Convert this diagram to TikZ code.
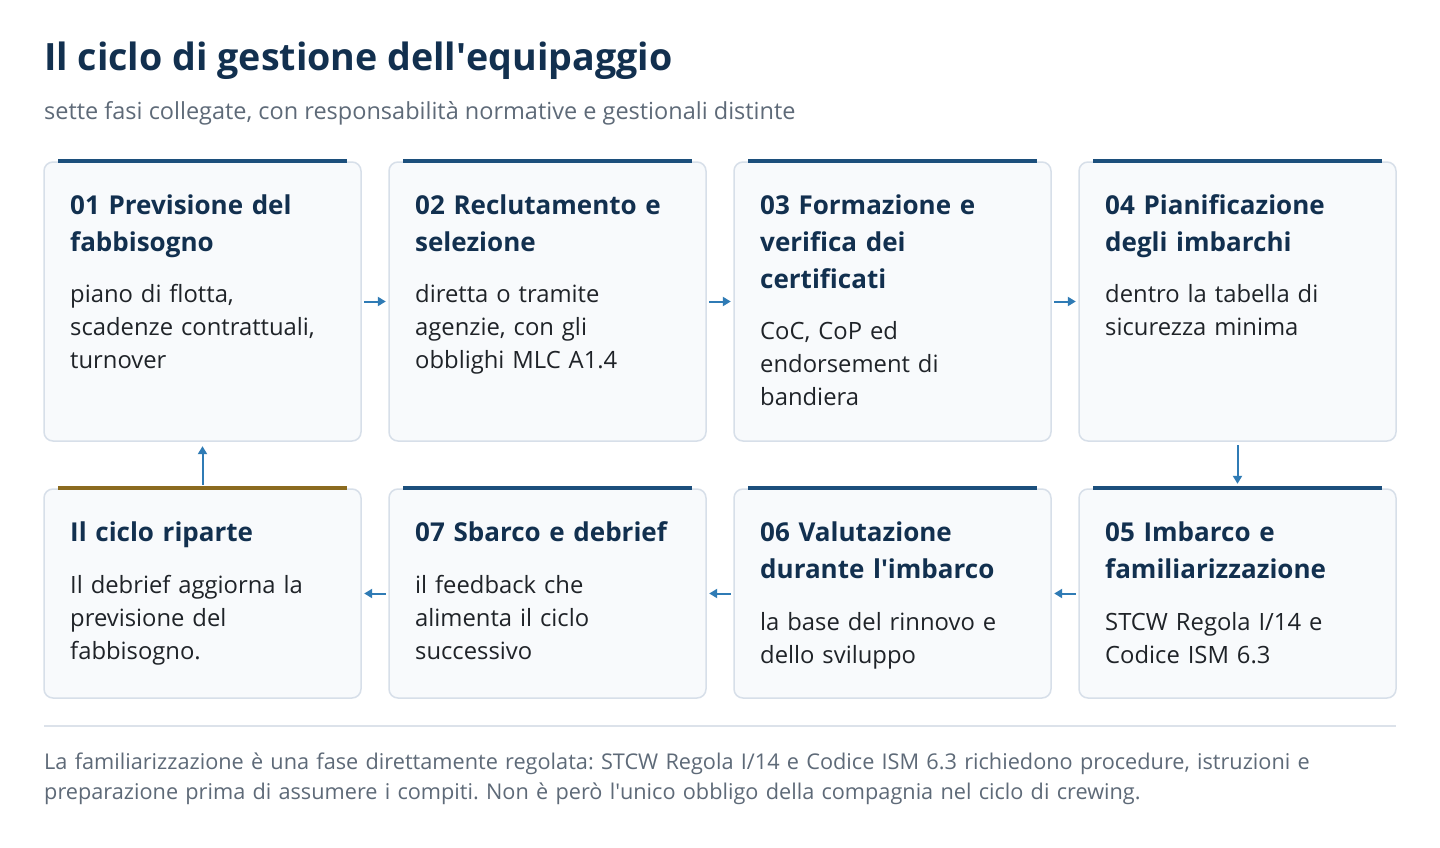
\documentclass[tikz,border=0pt]{standalone}
\usepackage{fontspec}
\setmainfont{Open Sans}
\usetikzlibrary{arrows.meta}
\definecolor{navy}{HTML}{12304F}
\definecolor{accent}{HTML}{1C4F7C}
\definecolor{gold}{HTML}{8B6B1F}
\definecolor{arrowc}{HTML}{2F7BB5}
\definecolor{cardfill}{HTML}{F8FAFC}
\definecolor{cardline}{HTML}{D7DFE9}
\definecolor{bodyc}{HTML}{1F2328}
\definecolor{greyc}{HTML}{5E6A78}
\definecolor{sepc}{HTML}{DCE2EA}
\newcommand{\apo}{\textquotesingle}
\tikzset{
  card/.style={draw=cardline, line width=1.5pt, fill=cardfill, rounded corners=9pt},
  bar/.style={line width=4pt, draw=accent},
  ctitle/.style={anchor=base west, inner sep=0pt, text width=290pt, align=left, text=navy, font=\fontsize{26}{37}\selectfont\bfseries\frenchspacing},
  cbody/.style={anchor=base west, inner sep=0pt, text width=290pt, align=left, text=bodyc, font=\fontsize{23.8}{33}\selectfont\frenchspacing},
  flow/.style={draw=arrowc, line width=2pt, -{Triangle[length=8pt,width=9pt]}},
}
\begin{document}
\begin{tikzpicture}[x=1pt,y=-1pt]
\useasboundingbox[fill=white] (0,0) rectangle (1440,848);
\node[anchor=base west, inner sep=0pt, text=navy, font=\fontsize{37.6}{42}\selectfont\bfseries] (title) at (44,71) {Il ciclo di gestione dell\apo equipaggio};
\node[anchor=base west, inner sep=0pt, text=greyc, font=\fontsize{23.5}{26}\selectfont] (sub) at (44,120) {sette fasi collegate, con responsabilità normative e gestionali distinte};
% cards row 1
\foreach \x in {44,389,734,1079}{
  \draw[card] (\x,162) rectangle ++(317,279);
  \draw[bar] (\x+14,161) -- ++(289,0);
}
\foreach \x in {44,389,734,1079}{
  \draw[card] (\x,489) rectangle ++(317,209);
}
\foreach \x in {389,734,1079}{\draw[bar] (\x+14,488) -- ++(289,0);}
\draw[bar, draw=gold] (58,488) -- ++(289,0);
% anchor nodes for cards
\node[inner sep=0pt, minimum width=317pt, minimum height=279pt] (c1) at (202.5,301.5) {};
\node[inner sep=0pt, minimum width=317pt, minimum height=279pt] (c2) at (547.5,301.5) {};
\node[inner sep=0pt, minimum width=317pt, minimum height=279pt] (c3) at (892.5,301.5) {};
\node[inner sep=0pt, minimum width=317pt, minimum height=279pt] (c4) at (1237.5,301.5) {};
\node[inner sep=0pt, minimum width=317pt, minimum height=209pt] (c5) at (1237.5,593.5) {};
\node[inner sep=0pt, minimum width=317pt, minimum height=209pt] (c6) at (892.5,593.5) {};
\node[inner sep=0pt, minimum width=317pt, minimum height=209pt] (c7) at (547.5,593.5) {};
\node[inner sep=0pt, minimum width=317pt, minimum height=209pt] (c8) at (202.5,593.5) {};
% texts
\node[ctitle] (t1) at (70,214) {01 Previsione del\\fabbisogno};
\node[cbody] (b1) at (70,302) {piano di flotta,\\scadenze contrattuali,\\turnover};
\node[ctitle] (t2) at (415,214) {02 Reclutamento e\\selezione};
\node[cbody] (b2) at (415,302) {diretta o tramite\\agenzie, con gli\\obblighi MLC A1.4};
\node[ctitle] (t3) at (760,214) {03 Formazione e\\verifica dei\\certificati};
\node[cbody] (b3) at (760,339) {CoC, CoP ed\\endorsement di\\bandiera};
\node[ctitle] (t4) at (1105,214) {04 Pianificazione\\degli imbarchi};
\node[cbody] (b4) at (1105,302) {dentro la tabella di\\sicurezza minima};
\node[ctitle] (t5) at (1105,541) {05 Imbarco e\\familiarizzazione};
\node[cbody] (b5) at (1105,630) {STCW Regola I/14 e\\Codice ISM 6.3};
\node[ctitle] (t6) at (760,541) {06 Valutazione\\durante l\apo imbarco};
\node[cbody] (b6) at (760,630) {la base del rinnovo e\\dello sviluppo};
\node[ctitle] (t7) at (415,541) {07 Sbarco e debrief};
\node[cbody] (b7) at (415,593) {il feedback che\\alimenta il ciclo\\successivo};
\node[ctitle] (t8) at (70,541) {Il ciclo riparte};
\node[cbody] (b8) at (70,593) {Il debrief aggiorna la\\previsione del\\fabbisogno.};
% arrows
\draw[flow] ([xshift=3pt]c1.east) -- ([xshift=-3pt]c2.west);
\draw[flow] ([xshift=3pt]c2.east) -- ([xshift=-3pt]c3.west);
\draw[flow] ([xshift=3pt]c3.east) -- ([xshift=-3pt]c4.west);
\draw[flow] ([yshift=-4pt]c4.south) -- ([yshift=5pt]c5.north);
\draw[flow] ([xshift=-3pt]c5.west) -- ([xshift=3pt]c6.east);
\draw[flow] ([xshift=-3pt]c6.west) -- ([xshift=3pt]c7.east);
\draw[flow] ([xshift=-3pt]c7.west) -- ([xshift=3pt]c8.east);
\draw[flow] ([yshift=4pt]c8.north) -- ([yshift=-5pt]c1.south);
% footer
\draw[sepc, line width=1.5pt] (44,726) -- (1396,726);
\node[anchor=base west, inner sep=0pt, text=greyc, font=\fontsize{21.7}{30}\selectfont\frenchspacing, align=left, text width=1380pt] (foot) at (44,769) {La familiarizzazione è una fase direttamente regolata: STCW Regola I/14 e Codice ISM 6.3 richiedono procedure, istruzioni e\\preparazione prima di assumere i compiti. Non è però l\apo unico obbligo della compagnia nel ciclo di crewing.};
\end{tikzpicture}
\end{document}
